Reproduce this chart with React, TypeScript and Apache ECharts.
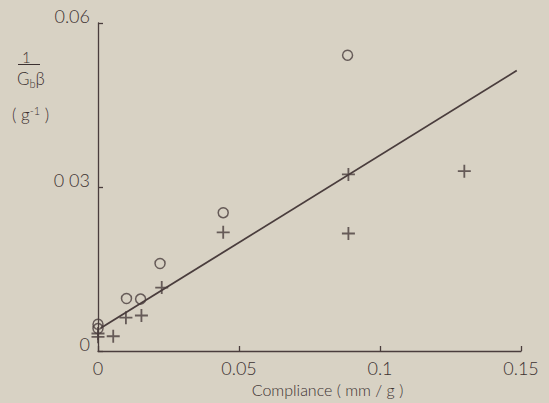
import React, { useEffect, useRef } from "react";
import * as echarts from "echarts";

const xTickLabels: Record<string, string> = { "0": "0", "0.05": "0.05", "0.1": "0.1", "0.15": "0.15" };
const yTickLabels: Record<string, string> = { "0": "0", "0.03": "0 03", "0.06": "0.06" };

const circleX = [0, 0, 0.0101, 0.0151, 0.022, 0.0444, 0.0885];
const circleY = [0.0049, 0.0041, 0.0096, 0.0095, 0.016, 0.0253, 0.0541];

const crossX = [0, 0, 0.0054, 0.0099, 0.0154, 0.0226, 0.0444, 0.0888, 0.0888, 0.1299];
const crossY = [0.0032, 0.0026, 0.0027, 0.0061, 0.0065, 0.0116, 0.0217, 0.0323, 0.0215, 0.0329];

const fitX = [0.001, 0.1485];
const fitY = [0.0042, 0.0513];

const INK = "#4a3d3d";
const TEXT = "#3c3131";
const FONT = "Lato";

const PLUS =
  "path://M4.3,0 H5.7 V4.3 H10 V5.7 H5.7 V10 H4.3 V5.7 H0 V4.3 H4.3 Z";

function fmt(v: number, map: Record<string, string>) {
  const k = String(Math.round(v * 1000) / 1000);
  return map[k] ?? k;
}

export default function App() {
  const ref = useRef<HTMLDivElement>(null);
  useEffect(() => {
    if (!ref.current) return;
    const chart = echarts.init(ref.current, undefined, { renderer: "svg" });
    const zip = (xs: number[], ys: number[]) => xs.map((x, i) => [x, ys[i]]);
    chart.setOption({
      animation: false,
      backgroundColor: "#d8d2c4",
      grid: { left: 98, right: 28, top: 23, bottom: 52 },
      xAxis: {
        type: "value",
        min: 0,
        max: 0.15,
        interval: 0.05,
        name: "Compliance ( mm / g )",
        nameLocation: "middle",
        nameGap: 30,
        nameTextStyle: {
          color: TEXT,
          fontFamily: FONT,
          fontWeight: 300,
          fontSize: 16,
          padding: [0, 0, 0, 36],
        },
        axisLine: { show: true, onZero: false, lineStyle: { color: INK, width: 1.3 } },
        axisTick: { show: true, inside: true, length: 5, lineStyle: { color: INK, width: 1.3 } },
        axisLabel: {
          color: TEXT,
          fontFamily: FONT,
          fontWeight: 300,
          fontSize: 18,
          margin: 8,
          formatter: (v: number) => fmt(v, xTickLabels),
        },
        splitLine: { show: false },
      },
      yAxis: {
        type: "value",
        min: 0,
        max: 0.06,
        interval: 0.03,
        axisLine: { show: true, onZero: false, lineStyle: { color: INK, width: 1.3 } },
        axisTick: { show: true, inside: true, length: 5, lineStyle: { color: INK, width: 1.3 } },
        axisLabel: {
          color: TEXT,
          fontFamily: FONT,
          fontWeight: 300,
          fontSize: 18,
          margin: 8,
          formatter: (v: number) => "{a|" + fmt(v, yTickLabels) + "}",
          rich: {
            a: {
              color: TEXT,
              fontFamily: FONT,
              fontWeight: 300,
              fontSize: 18,
              padding: [0, 0, 14, 0],
            },
          },
        },
        splitLine: { show: false },
      },
      graphic: [
        {
          type: "text",
          left: 22,
          top: 49,
          style: { text: "1", fill: TEXT, font: `300 15px ${FONT}` },
        },
        {
          type: "line",
          shape: { x1: 18, y1: 64.5, x2: 40, y2: 64.5 },
          style: { stroke: TEXT, lineWidth: 1 },
        },
        {
          type: "text",
          left: 17,
          top: 70,
          style: {
            text: "G{b|b}β",
            fill: TEXT,
            font: `300 17px ${FONT}`,
            rich: { b: { fontSize: 11, fontWeight: 300, fontFamily: FONT, fill: TEXT, padding: [9, 0, 0, 0] } },
          },
        },
        {
          type: "text",
          left: 12,
          top: 105,
          style: {
            text: "( g{s|-1} )",
            fill: TEXT,
            font: `300 17px ${FONT}`,
            rich: { s: { fontSize: 11, fontWeight: 300, fontFamily: FONT, fill: TEXT, padding: [0, 0, 8, 0] } },
          },
        },
      ],
      series: [
        {
          type: "line",
          data: zip(fitX, fitY),
          showSymbol: false,
          lineStyle: { color: INK, width: 1.8 },
          z: 1,
        },
        {
          type: "scatter",
          data: zip(circleX, circleY),
          symbol: "circle",
          symbolSize: 10,
          itemStyle: { color: "rgba(0,0,0,0)", borderColor: INK, borderWidth: 1.5 },
          z: 3,
        },
        {
          type: "scatter",
          data: zip(crossX, crossY),
          symbol: PLUS,
          symbolSize: 13,
          itemStyle: { color: INK },
          z: 4,
        },
      ],
    });
    return () => chart.dispose();
  }, []);
  return (
    <div
      ref={ref}
      style={{ position: "absolute", left: 0, top: 0, width: 549, height: 403 }}
    />
  );
}
